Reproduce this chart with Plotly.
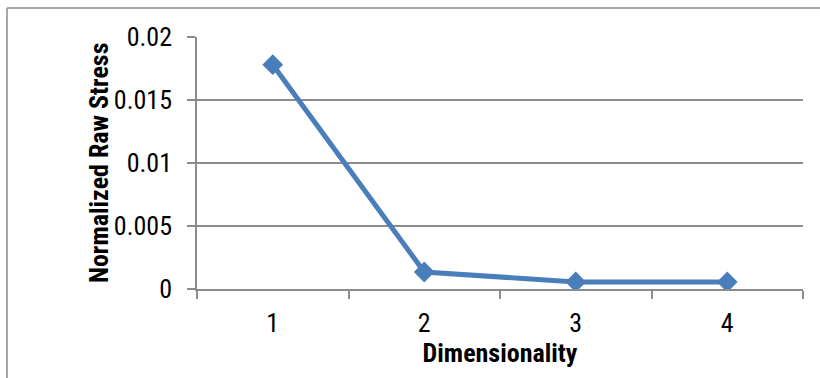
import plotly.graph_objects as go

# Stress values by number of dimensions
dimensions = ["1", "2", "3", "4"]
stress = [0.0178, 0.00135, 0.00056, 0.00056]
y_ticks = [0, 0.005, 0.01, 0.015, 0.02]
y_tick_text = ["0", "0.005", "0.01", "0.015", "0.02"]
x_title = "Dimensionality"
y_title = "Normalized Raw Stress"

W, H = 820, 378
ML, MR, MT, MB = 197, 17, 37, 89
PW, PH = W - ML - MR, H - MT - MB

FONT = "Roboto Condensed"
BLUE = "#4a7ebb"
GRID = "#8c8c8c"

fig = go.Figure(
    go.Scatter(
        x=dimensions,
        y=stress,
        mode="lines+markers",
        line=dict(color=BLUE, width=5),
        marker=dict(symbol="diamond", size=16, color=BLUE),
        showlegend=False,
    )
)

def px_x(p):
    return (p - ML) / PW

def px_y(p):
    return (H - MB - p) / PH

# outer chart frame (clipped at the right and bottom edges)
fig.add_shape(type="line", xref="paper", yref="paper",
              x0=px_x(7), x1=px_x(W + 5), y0=px_y(8), y1=px_y(8),
              line=dict(color="#8a8a8a", width=1.5))
fig.add_shape(type="line", xref="paper", yref="paper",
              x0=px_x(7), x1=px_x(7), y0=px_y(8), y1=px_y(H + 5),
              line=dict(color="#8a8a8a", width=1.5))

# vertical axis title, placed close to the tick labels
fig.add_annotation(text=y_title, xref="paper", yref="paper",
                   x=px_x(99), y=0.5, xanchor="center", yanchor="middle",
                   textangle=-90, showarrow=False,
                   font=dict(family=FONT, size=26, weight="bold", color="black"))

fig.update_layout(
    width=W, height=H,
    margin=dict(l=ML, r=MR, t=MT, b=MB),
    paper_bgcolor="white", plot_bgcolor="white",
    font=dict(family=FONT, size=26, color="black"),
    xaxis=dict(
        type="category",
        range=[-0.5, 3.5],
        showgrid=False,
        showline=True, linecolor=GRID, linewidth=1.5,
        ticks="outside", ticklen=8, tickcolor=GRID, tickwidth=1.5,
        tickson="boundaries",
        ticklabelstandoff=10,
        tickfont=dict(family=FONT, size=26),
        title=dict(text=x_title, font=dict(family=FONT, size=26, weight="bold"), standoff=0),
    ),
    yaxis=dict(
        range=[0, 0.02],
        tickvals=y_ticks, ticktext=y_tick_text,
        showgrid=True, gridcolor=GRID, gridwidth=1.5,
        showline=True, linecolor=GRID, linewidth=1.5,
        ticks="outside", ticklen=8, tickcolor=GRID, tickwidth=1.5,
        ticklabelstandoff=10,
        tickfont=dict(family=FONT, size=26),
        zeroline=False,
    ),
)

fig.write_html("out.html")
